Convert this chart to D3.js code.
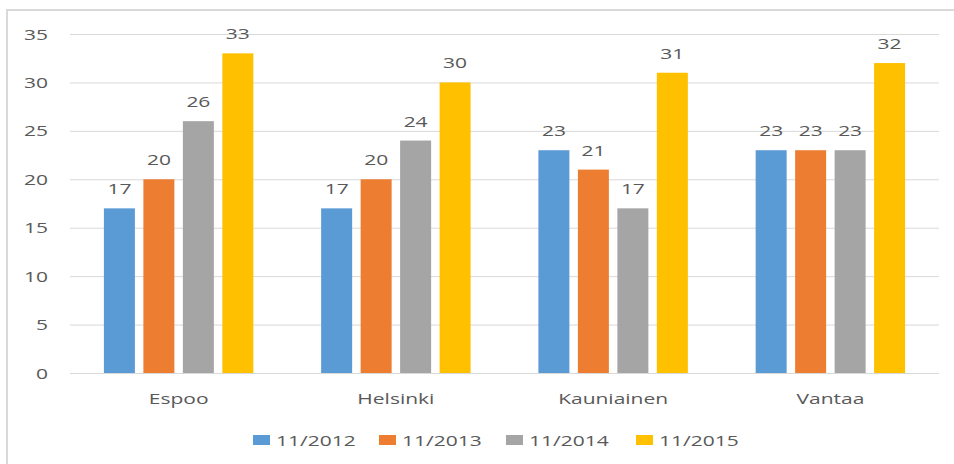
<!DOCTYPE html>
<html><head><meta charset="utf-8">
<script src="https://cdn.jsdelivr.net/npm/d3@7"></script>
<style>body{margin:0;background:#fff}svg{display:block}</style>
</head><body>
<svg id="c" width="954" height="464"></svg>
<script>
const categories = ["Espoo", "Helsinki", "Kauniainen", "Vantaa"];
const seriesNames = ["11/2012", "11/2013", "11/2014", "11/2015"];
const s2012 = [17, 17, 23, 23];
const s2013 = [20, 20, 21, 23];
const s2014 = [26, 24, 17, 23];
const s2015 = [33, 30, 31, 32];
const colors = ["#5b9bd5", "#ed7d31", "#a5a5a5", "#ffc000"];
const yTicks = [0, 5, 10, 15, 20, 25, 30, 35];

(function () {
const seriesValues = [s2012, s2013, s2014, s2015];
const svg = d3.select("#c");
const SX = 1.5, FONT = "'Open Sans', sans-serif", TXT = "#595959";
const pLeft = 70, pRight = 939, pTop = 34, pBottom = 373;

svg.append("rect").attr("x", 7).attr("y", 10).attr("width", 960).attr("height", 470)
  .attr("fill", "none").attr("stroke", "#d9d9d9").attr("stroke-width", 2);

const y = d3.scaleLinear().domain([0, 35]).range([pBottom, pTop]);
const x0 = d3.scaleBand().domain(categories).range([pLeft, pRight]).paddingInner(0.273).paddingOuter(0.1365);
const x1 = d3.scaleBand().domain(seriesNames).range([0, x0.bandwidth()]).paddingInner(0.215).paddingOuter(0.1075);

function stext(g, x, yy, str, anchor) {
  return g.append("text").attr("transform", `translate(${x},${yy}) scale(${SX},1)`)
    .attr("text-anchor", anchor).attr("font-family", FONT).attr("font-size", 14)
    .attr("fill", TXT).text(str);
}

const yAxis = d3.axisLeft(y).tickValues(yTicks).tickSize(-(pRight - pLeft)).tickPadding(0);
const ga = svg.append("g").attr("transform", `translate(${pLeft},0)`).call(yAxis);
ga.select(".domain").remove();
ga.selectAll(".tick line").attr("stroke", "#d9d9d9").attr("stroke-width", 1);
ga.selectAll(".tick text").remove();
ga.selectAll(".tick").each(function(d) {
  stext(d3.select(this), -22, 5, d, "end");
});

categories.forEach((cat, ci) => {
  seriesNames.forEach((s, si) => {
    const v = seriesValues[si][ci];
    const bx = x0(cat) + x1(s);
    svg.append("rect").attr("x", bx).attr("y", y(v)).attr("width", x1.bandwidth())
      .attr("height", y(0) - y(v)).attr("fill", colors[si]);
    stext(svg, bx + x1.bandwidth() / 2, y(v) - 14, v, "middle");
  });
});

const xAxis = d3.axisBottom(x0).tickSize(0);
const gx = svg.append("g").attr("transform", `translate(0,${pBottom})`).call(xAxis);
gx.select(".domain").remove();
gx.selectAll(".tick text").remove();
gx.selectAll(".tick").each(function(d) { stext(d3.select(this), 0, 31, d, "middle"); });

const legX = [253, 379, 506, 636];
seriesNames.forEach((s, i) => {
  svg.append("rect").attr("x", legX[i]).attr("y", 435).attr("width", 17).attr("height", 10).attr("fill", colors[i]);
  stext(svg, legX[i] + 23, 446, s, "start");
});
})();
</script>
</body></html>
